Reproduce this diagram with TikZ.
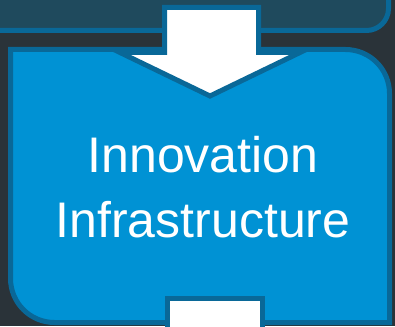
\documentclass[tikz,border=0pt]{standalone}
\usepackage{fontspec}
\setmainfont{Liberation Sans}
\definecolor{bgdark}{RGB}{42,51,57}
\definecolor{topfill}{RGB}{31,74,93}
\definecolor{edgeblue}{RGB}{9,104,152}
\definecolor{mainfill}{RGB}{0,146,212}

\begin{document}
\begin{tikzpicture}[x=1pt, y=-1pt, panel/.style={draw=edgeblue, line width=5pt}, blockarrow/.style={fill=white, draw=edgeblue, line width=5pt, line join=miter, miter limit=10}]
				% Frame
				\useasboundingbox (0, 0) rectangle (395, 326);
				\clip (0, 0) rectangle (395, 326);
				\fill[bgdark] (0, 0) rectangle (395, 326);

				% Boxes
				\draw[panel, fill=topfill] (-10, -20) -- (388.5, -20) [rounded corners=22pt] -- (388.5, 30.5) [sharp corners] -- (-10, 30.5) -- cycle;
				\draw[panel, fill=mainfill] (10.5, 49.5) [rounded corners=44pt] -- (389.5, 49.5) [sharp corners] -- (389.5, 322.5) [rounded corners=44pt] -- (10.5, 322.5) [sharp corners] -- cycle;

				% Label
				\node[text=white, align=center, inner sep=0pt, font=\fontsize{50}{65}\selectfont] (infra) at (203, 187.5) {Innovation\\Infrastructure};

				% Arrows
				\draw[blockarrow] (164.5, 7.5) -- (258.5, 7.5) -- (258.5, 52.5) -- (300, 52.5) -- (210, 96) -- (120, 52.5) -- (164.5, 52.5) -- cycle;
				\draw[blockarrow] (167.5, 340) -- (167.5, 298.5) -- (262.5, 298.5) -- (262.5, 340);
			\end{tikzpicture}
\end{document}
